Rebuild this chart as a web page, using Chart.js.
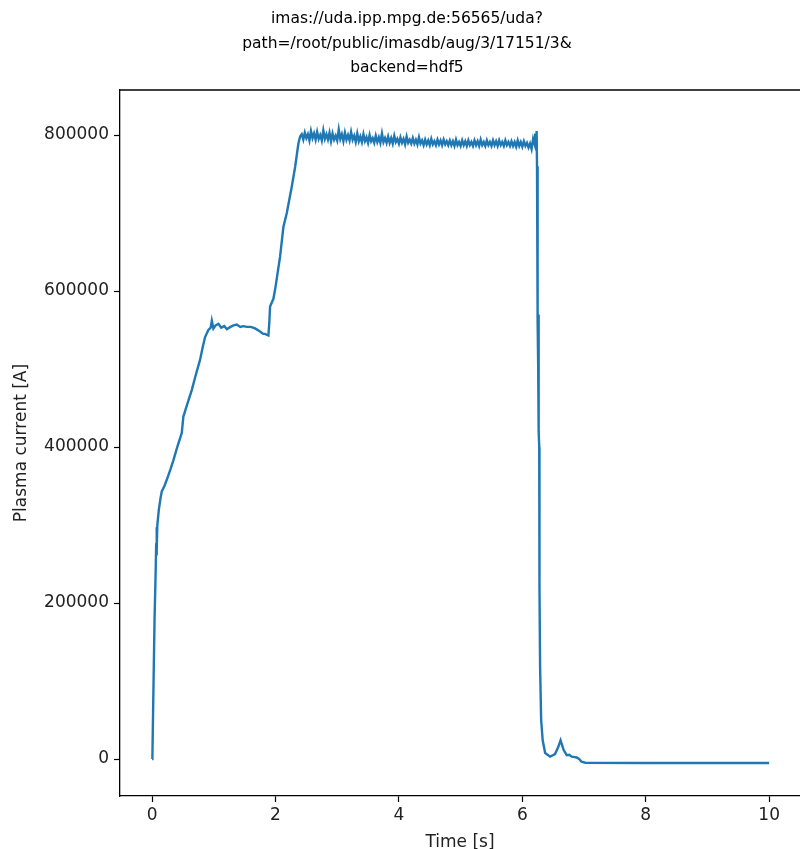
<!DOCTYPE html>
<html>
<head>
<meta charset="utf-8">
<script src="https://cdn.jsdelivr.net/npm/chart.js@4"></script>
<style>
  html, body { margin: 0; padding: 0; background: #fff; overflow: hidden; }
  #wrap { width: 800px; height: 849px; }
</style>
</head>
<body>
<div id="wrap"><canvas id="ipChart" width="800" height="849"></canvas></div>
<script>
// --- DATA ---
const titleLines = [
    'imas://uda.ipp.mpg.de:56565/uda?',
    'path=/root/public/imasdb/aug/3/17151/3&',
    'backend=hdf5'
];
const xTicks = [0, 2, 4, 6, 8, 10];
const yTicks = [0, 200000, 400000, 600000, 800000];

// ramp-up phase
const rampTime = [
    0, 0.005, 0.02, 0.04, 0.055, 0.065, 0.072, 0.078, 0.085, 0.11, 0.14, 0.157, 0.2, 0.238, 0.3,
    0.345, 0.4, 0.481, 0.507, 0.57, 0.643, 0.7, 0.778, 0.82, 0.859, 0.912, 0.95, 0.968, 0.994,
    1.03, 1.075, 1.12, 1.17, 1.211, 1.27, 1.32, 1.373, 1.43, 1.48, 1.535, 1.6, 1.669, 1.75, 1.8,
    1.831, 1.885, 1.9, 1.912, 1.966, 2.0, 2.074, 2.128, 2.183, 2.264, 2.318, 2.371, 2.399
];
const rampCurrent = [
    0, 2000, 80000, 180000, 230000, 270000, 297000, 268000, 300000, 320000, 336000, 343000, 350000, 358000, 372000,
    383000, 398000, 418000, 439000, 455000, 473000, 490000, 512000, 528000, 541000, 550000, 553000, 562000, 552000,
    556000, 558000, 553000, 555000, 551000, 554000, 556000, 557000, 554000, 555000, 554000, 554000, 552000, 548000, 545000,
    545000, 543000, 560000, 580000, 590000, 605000, 644000, 682000, 700000, 734000, 759000, 789000, 798000
];

// flat-top phase (noisy)
const flatTime = [
    2.425, 2.45, 2.475, 2.5, 2.525, 2.55, 2.575, 2.6,
    2.625, 2.65, 2.675, 2.7, 2.725, 2.75, 2.775, 2.8,
    2.825, 2.85, 2.875, 2.9, 2.925, 2.95, 2.975, 3.0,
    3.025, 3.05, 3.075, 3.1, 3.125, 3.15, 3.175, 3.2,
    3.225, 3.25, 3.275, 3.3, 3.325, 3.35, 3.375, 3.4,
    3.425, 3.45, 3.475, 3.5, 3.525, 3.55, 3.575, 3.6,
    3.625, 3.65, 3.675, 3.7, 3.725, 3.75, 3.775, 3.8,
    3.825, 3.85, 3.875, 3.9, 3.925, 3.95, 3.975, 4.0,
    4.025, 4.05, 4.075, 4.1, 4.125, 4.15, 4.175, 4.2,
    4.225, 4.25, 4.275, 4.3, 4.325, 4.35, 4.375, 4.4,
    4.425, 4.45, 4.475, 4.5, 4.525, 4.55, 4.575, 4.6,
    4.625, 4.65, 4.675, 4.7, 4.725, 4.75, 4.775, 4.8,
    4.825, 4.85, 4.875, 4.9, 4.925, 4.95, 4.975, 5.0,
    5.025, 5.05, 5.075, 5.1, 5.125, 5.15, 5.175, 5.2,
    5.225, 5.25, 5.275, 5.3, 5.325, 5.35, 5.375, 5.4,
    5.425, 5.45, 5.475, 5.5, 5.525, 5.55, 5.575, 5.6,
    5.625, 5.65, 5.675, 5.7, 5.725, 5.75, 5.775, 5.8,
    5.825, 5.85, 5.875, 5.9, 5.925, 5.95, 5.975, 6.0,
    6.025, 6.05, 6.075, 6.1, 6.125, 6.15, 6.175, 6.2
];
const flatCurrent = [
    801000, 794000, 803000, 796000, 801000, 793000, 805000, 796000,
    802000, 794000, 804000, 795000, 800000, 793000, 806000, 795000,
    801000, 794000, 803000, 792000, 802000, 794000, 799000, 793000,
    807000, 795000, 801000, 792000, 803000, 794000, 800000, 793000,
    804000, 794000, 799000, 791000, 802000, 792000, 798000, 791000,
    801000, 792000, 797000, 790000, 800000, 792000, 796000, 790000,
    799000, 791000, 797000, 790000, 802000, 791000, 796000, 790000,
    798000, 790000, 796000, 789000, 799000, 791000, 795000, 789000,
    797000, 790000, 795000, 788000, 798000, 790000, 794000, 789000,
    796000, 789000, 794000, 788000, 797000, 789000, 793000, 787000,
    794000, 788000, 793000, 787000, 795000, 788000, 792000, 787000,
    794000, 788000, 793000, 787000, 794000, 788000, 792000, 787000,
    793000, 787000, 792000, 786000, 794000, 787000, 791000, 786000,
    793000, 787000, 792000, 786000, 793000, 787000, 791000, 786000,
    793000, 787000, 792000, 786000, 794000, 787000, 791000, 786000,
    793000, 787000, 791000, 786000, 793000, 787000, 792000, 786000,
    793000, 787000, 791000, 786000, 793000, 787000, 791000, 786000,
    792000, 786000, 791000, 785000, 793000, 786000, 791000, 785000,
    792000, 786000, 790000, 784000, 789000, 782000, 795000, 788000
];

// disruption and tail
const dropTime = [
    6.21, 6.225, 6.232, 6.238, 6.242, 6.246, 6.25, 6.254, 6.257, 6.26, 6.264, 6.27, 6.274, 6.278, 6.288,
    6.305, 6.33, 6.37, 6.45, 6.53, 6.58, 6.62, 6.67, 6.72, 6.76, 6.8, 6.85, 6.88, 6.92, 6.96,
    7.02, 8, 9, 10
];
const dropCurrent = [
    802000, 786000, 805000, 760000, 740000, 680000, 620000, 560000, 505000, 570000, 520000, 420000, 400000, 220000, 118000,
    50000, 24000, 7700, 3000, 6400, 15000, 24000, 11500, 5000, 5500, 3000, 2500, 2000, 0, -3500,
    -4700, -5000, -5000, -5000
];

const timeS = rampTime.concat(flatTime, dropTime);
const currentA = rampCurrent.concat(flatCurrent, dropCurrent);

// draws the three-line title and the top spine (no right spine: it sits off the picture)
const framePlugin = {
    id: 'frame',
    afterDraw(chart) {
        const ctx = chart.ctx;
        const area = chart.chartArea;
        ctx.save();
        ctx.strokeStyle = '#000';
        ctx.lineWidth = 1.3;
        ctx.beginPath();
        ctx.moveTo(area.left, area.top);
        ctx.lineTo(area.right, area.top);
        ctx.stroke();

        ctx.fillStyle = '#000';
        ctx.font = '15.5px "DejaVu Sans"';
        ctx.textAlign = 'center';
        ctx.textBaseline = 'middle';
        titleLines.forEach((line, i) => ctx.fillText(line, 407, 19 + i * 24.5));
        ctx.restore();
    }
};

const ctx = document.getElementById('ipChart');
new Chart(ctx, {
    type: 'scatter',
    data: {
        datasets: [{
            label: 'Plasma current',
            data: timeS.map((t, i) => ({ x: t, y: currentA[i] })),
            showLine: true,
            borderColor: '#1f77b4',
            borderWidth: 2.4,
            pointRadius: 0,
            tension: 0
        }]
    },
    options: {
        responsive: false,
        animation: false,
        layout: { padding: { top: 90, right: 0, left: 0, bottom: 0 } },
        plugins: { legend: { display: false }, tooltip: { enabled: false } },
        scales: {
            x: {
                type: 'linear',
                min: -0.52,
                max: 10.5,
                afterBuildTicks: axis => { axis.ticks = xTicks.map(v => ({ value: v })); },
                afterFit: axis => { axis.height = 53; },
                grid: { drawOnChartArea: false, color: '#000', tickLength: 6, tickWidth: 1.2 },
                border: { display: true, color: '#000', width: 1.3 },
                ticks: { color: '#222', padding: 3, maxRotation: 0, font: { family: 'DejaVu Sans', size: 17 },
                         callback: v => String(v) },
                title: { display: true, text: 'Time [s]', color: '#222', padding: { top: 0, bottom: -4 },
                         font: { family: 'DejaVu Sans', size: 17 } }
            },
            y: {
                type: 'linear',
                min: -47400,
                max: 857700,
                afterBuildTicks: axis => { axis.ticks = yTicks.map(v => ({ value: v })); },
                afterFit: axis => { axis.width = 120; },
                grid: { drawOnChartArea: false, color: '#000', tickLength: 6, tickWidth: 1.2 },
                border: { display: true, color: '#000', width: 1.3 },
                ticks: { color: '#222', padding: 5, font: { family: 'DejaVu Sans', size: 17 },
                         callback: v => String(v) },
                title: { display: true, text: 'Plasma current [A]', color: '#222', padding: { top: 11, bottom: 0 },
                         font: { family: 'DejaVu Sans', size: 17 } }
            }
        }
    },
    plugins: [framePlugin]
});
</script>
</body>
</html>
